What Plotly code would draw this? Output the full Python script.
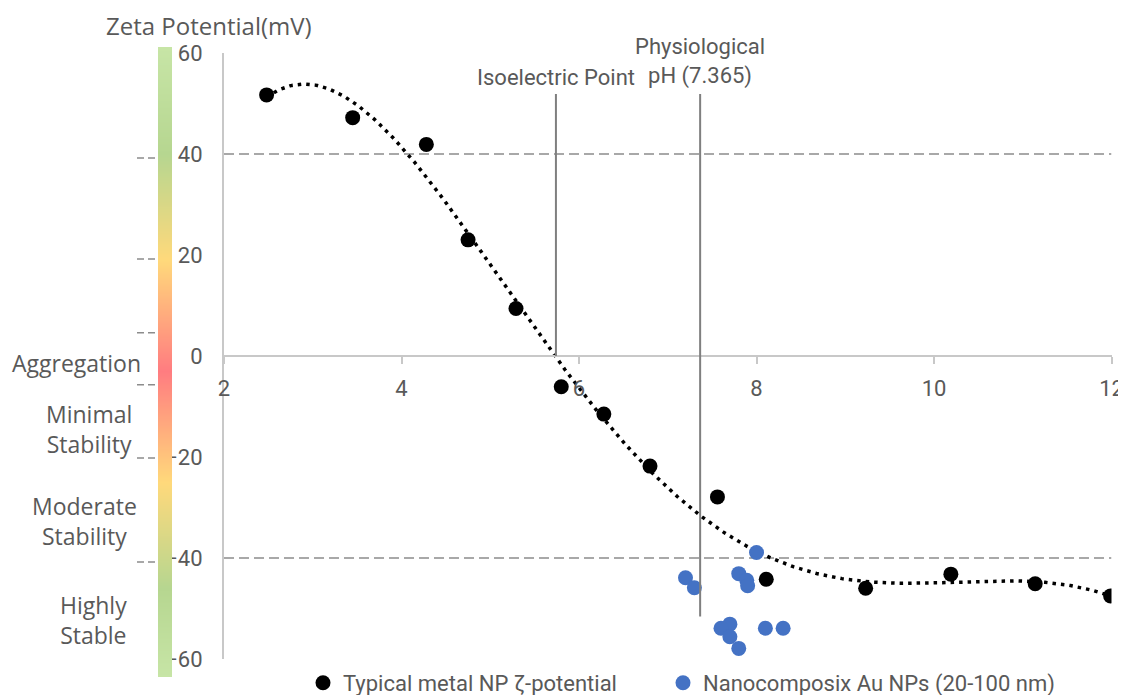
import numpy as np
import plotly.graph_objects as go

# ---------------- data ----------------
metal_ph = [2.48, 3.45, 4.28, 4.75, 5.29, 5.80, 6.28, 6.80, 7.56, 8.11, 9.23, 10.19, 11.14, 11.99]
metal_zeta = [51.7, 47.2, 41.9, 23.0, 9.4, -6.1, -11.5, -21.8, -27.9, -44.2, -46.0, -43.2, -45.1, -47.5]

au_ph = [8.00, 7.20, 7.30, 7.80, 7.89, 7.90, 7.70, 7.60, 7.70, 7.80, 8.10, 8.30]
au_zeta = [-38.9, -43.9, -45.9, -43.1, -44.4, -45.5, -53.1, -53.9, -55.6, -57.9, -53.9, -53.9]

isoelectric_ph = 5.74
physiological_ph = 7.365
stability_limits = [40, -40]
zone_bounds = [39.2, 19.2, 4.6, -5.7, -20.2, -40.8]
zone_labels = ["Aggregation", "Minimal<br>Stability", "Moderate<br>Stability", "Highly<br>Stable"]
zone_label_y = [-1.4, -14.4, -32.6, -52.2]
zone_label_px = [76, 89, 84, 93]

x_ticks = [2, 4, 6, 8, 10, 12]
y_ticks = [-60, -40, -20, 0, 20, 40, 60]

grad_vals = [-63.56, -46, -25, -3, 19, 40, 61.19]
grad_cols = ["#c7e5a6", "#b6d690", "#ffd97b", "#ff7c80", "#ffd97b", "#b6d690", "#c7e5a6"]

# ---------------- layout helpers ----------------
OFF = 8  # page body margin
W, H = 1126 - OFF, 695 - OFF
px = lambda p: (p - OFF) / W
py = lambda p: 1 - (p - OFF) / H
GRAY = "#595959"
CAL = "Roboto"
SEG = "Open Sans"

# polynomial trendline (as in the spreadsheet)
coef = np.polyfit(metal_ph, metal_zeta, 5)
trend_x = np.linspace(metal_ph[0], metal_ph[-1], 400)
trend_y = np.polyval(coef, trend_x)

fig = go.Figure()

# colour bar
gmin, gmax = grad_vals[0], grad_vals[-1]
fig.add_trace(go.Heatmap(
    x=[0, 1], y=grad_vals, z=[[v, v] for v in grad_vals],
    colorscale=[[(v - gmin) / (gmax - gmin), c] for v, c in zip(grad_vals, grad_cols)],
    zmin=gmin, zmax=gmax, zsmooth="best", showscale=False, hoverinfo="skip",
    xaxis="x2", yaxis="y2", showlegend=False,
))

fig.add_trace(go.Scatter(
    x=trend_x, y=trend_y, mode="lines",
    line=dict(color="black", width=3.5, dash="3.5px,5px"),
    showlegend=False, hoverinfo="skip",
))
fig.add_trace(go.Scatter(
    x=metal_ph, y=metal_zeta, mode="markers",
    marker=dict(color="black", size=15),
    name="Typical metal NP ζ-potential", legend="legend",
))
fig.add_trace(go.Scatter(
    x=au_ph, y=au_zeta, mode="markers",
    marker=dict(color="#4472c4", size=15),
    name="Nanocomposix Au NPs (20-100 nm)", legend="legend2",
))

shapes = []
for v in stability_limits:
    shapes.append(dict(type="line", xref="x", yref="y", x0=2, x1=12, y0=v, y1=v,
                       line=dict(color="#8c8c8c", width=1.5, dash="10px,5px"), layer="below"))
shapes.append(dict(type="line", xref="x", yref="y", x0=isoelectric_ph, x1=isoelectric_ph,
                   y0=51.9, y1=0, line=dict(color="#7f7f7f", width=2)))
shapes.append(dict(type="line", xref="x", yref="y", x0=physiological_ph, x1=physiological_ph,
                   y0=51.9, y1=-51.6, line=dict(color="#7f7f7f", width=2)))
for v in zone_bounds:
    shapes.append(dict(type="line", xref="paper", yref="y", x0=px(137), x1=px(157), y0=v, y1=v,
                       line=dict(color="#8c8c8c", width=1.5, dash="7px,4px")))

annotations = [
    dict(text="Zeta Potential(mV)", xref="paper", yref="paper", x=px(209), y=py(25),
         showarrow=False, font=dict(family=SEG, size=24, color=GRAY), xanchor="center", yanchor="middle"),
    dict(text="Isoelectric Point", xref="x", yref="paper", x=isoelectric_ph, y=py(77),
         showarrow=False, font=dict(family=CAL, size=22, color=GRAY), xanchor="center", yanchor="middle"),
    dict(text="Physiological<br>pH (7.365)", xref="x", yref="paper", x=physiological_ph, y=py(61),
         showarrow=False, font=dict(family=CAL, size=22, color=GRAY), xanchor="center", yanchor="middle"),
]
for lab, yv, xp in zip(zone_labels, zone_label_y, zone_label_px):
    annotations.append(dict(text=lab, xref="paper", yref="y", x=px(xp), y=yv, showarrow=False,
                            font=dict(family=SEG, size=23, color=GRAY), xanchor="center",
                            yanchor="middle", align="center"))

legend_common = dict(orientation="h", y=py(683), xanchor="left", yanchor="middle",
                     font=dict(family=CAL, size=22, color=GRAY),
                     bgcolor="rgba(0,0,0,0)", itemwidth=30)

fig.update_layout(
    width=W, height=H,
    margin=dict(l=0, r=0, t=0, b=0, autoexpand=False),
    paper_bgcolor="white", plot_bgcolor="rgba(0,0,0,0)",
    font=dict(family=CAL, color=GRAY),
    xaxis=dict(domain=[px(224), px(1111.5)], range=[2, 12], tickvals=x_ticks,
               anchor="free", position=py(356), showgrid=False, zeroline=False,
               showline=True, linecolor="#c8c8c8", linewidth=2, automargin=False,
               ticks="outside", ticklen=7, tickcolor="#c8c8c8", tickwidth=2, ticklabelstandoff=6,
               tickfont=dict(family=CAL, size=22, color=GRAY)),
    yaxis=dict(domain=[py(659), py(53)], range=[-60, 60], tickvals=y_ticks, automargin=False,
               showgrid=False, zeroline=False, showline=True, linecolor="#c8c8c8", linewidth=2,
               ticks="", ticklabelstandoff=15,
               tickfont=dict(family=CAL, size=22, color=GRAY)),
    xaxis2=dict(domain=[px(158), px(172)], range=[0, 1], visible=False, anchor="y2"),
    yaxis2=dict(domain=[py(677), py(47)], range=[gmin, gmax], visible=False, anchor="x2"),
    shapes=shapes,
    annotations=annotations,
    legend=dict(x=px(303), **legend_common),
    legend2=dict(x=px(663), **legend_common),
)

fig.write_html("out.html")
